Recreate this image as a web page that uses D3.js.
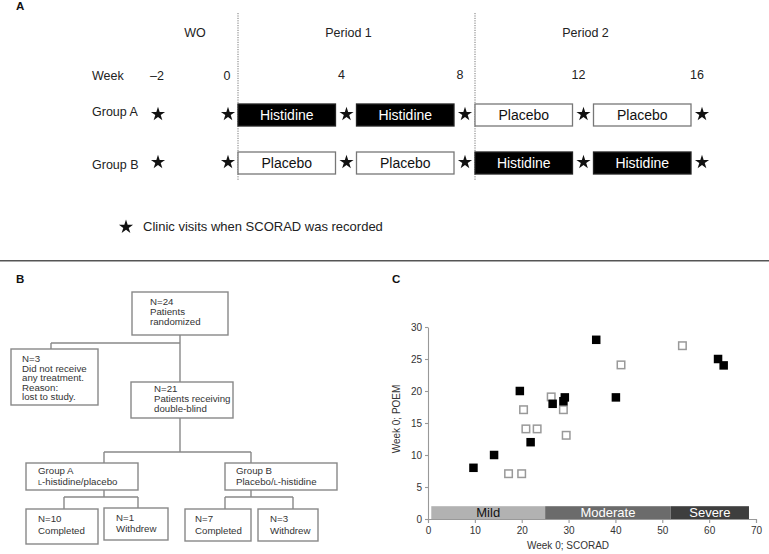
<!DOCTYPE html>
<html><head><meta charset="utf-8">
<script src="https://cdn.jsdelivr.net/npm/d3@7"></script>
<style>body{margin:0;background:#fff}svg{display:block;font-family:"Liberation Sans",Arial,sans-serif}</style>
</head><body>
<svg id="c" width="769" height="554"></svg>
<script>
// ---------- Panel A data ----------
const weeks = [-2, 0, 4, 8, 12, 16];
const weekLabels = ["–2", "0", "4", "8", "12", "16"];
const periodNames = ["WO", "Period 1", "Period 2"];
const periodWeeks = [[-2, 0], [0, 8], [8, 16]];
const groupNames = ["Group A", "Group B"];
const segmentWeeks = [[0, 4], [4, 8], [8, 12], [12, 16]];
const groupATreatment = ["Histidine", "Histidine", "Placebo", "Placebo"];
const groupBTreatment = ["Placebo", "Placebo", "Histidine", "Histidine"];
const legendText = "Clinic visits when SCORAD was recorded";

// ---------- Panel B data ----------
const flowN24 = ["N=24", "Patients", "randomized"];
const flowN3 = ["N=3", "Did not receive", "any treatment.", "Reason:", "lost to study."];
const flowN21 = ["N=21", "Patients receiving", "double-blind"];
const flowGroupA = ["Group A", "L-histidine/placebo"];
const flowGroupB = ["Group B", "Placebo/L-histidine"];
const flowA10 = ["N=10", "Completed"];
const flowA1 = ["N=1", "Withdrew"];
const flowB7 = ["N=7", "Completed"];
const flowB3 = ["N=3", "Withdrew"];

// ---------- Panel C data ----------
const filledScorad = [9.7, 14.1, 19.6, 21.9, 26.6, 28.9, 29.2, 35.9, 40.1, 61.9, 63.1];
const filledPoem   = [8, 10, 20, 12, 18, 18.4, 19, 28, 19, 25, 24];
const openScorad = [17.3, 20.1, 20.5, 21.0, 23.4, 26.4, 29.0, 29.6, 41.3, 54.4];
const openPoem   = [7, 7, 17, 14, 14, 19, 17, 13, 24, 27];
const severityNames = ["Mild", "Moderate", "Severe"];
const severityFrom = [0.7, 25, 51.8];
const severityTo = [25, 51.8, 68.5];
const xTicks = [0, 10, 20, 30, 40, 50, 60, 70];
const yTicks = [0, 5, 10, 15, 20, 25, 30];
const xTitle = "Week 0; SCORAD";
const yTitle = "Week 0; POEM";

const svg = d3.select("#c");

// Panel labels & separator
function panelLabel(t, x, y) {
  svg.append("text").attr("x", x).attr("y", y).text(t)
    .attr("font-weight", "bold").attr("font-size", 11.5).attr("fill", "#111");
}
panelLabel("A", 16, 10);
panelLabel("B", 16, 283);
panelLabel("C", 392, 283);
svg.append("line").attr("x1", 0).attr("x2", 769).attr("y1", 260.7).attr("y2", 260.7)
  .attr("stroke", "#555").attr("stroke-width", 1.4);

// ================= Panel A =================
const xw = d3.scaleLinear().domain([-2, 0, 16]).range([158, 228, 702]);
const rowY = d3.scaleOrdinal().domain(groupNames).range([115, 163]);
const gA = svg.append("g");
const starPath = d3.symbol(d3.symbolStar, 62);

// dotted period dividers
[0, 8].forEach(w => {
  gA.append("line").attr("x1", xw(w) + 10).attr("x2", xw(w) + 10)
    .attr("y1", 13).attr("y2", 180)
    .attr("stroke", "#777").attr("stroke-width", 1).attr("stroke-dasharray", "1.2,1.2");
});

periodNames.forEach((p, i) => {
  const [a, b] = periodWeeks[i];
  gA.append("text").attr("x", (xw(a) + xw(b)) / 2 + 2).attr("y", 37)
    .attr("text-anchor", "middle").attr("font-size", 12.5).attr("fill", "#222").text(p);
});

gA.append("text").attr("x", 92).attr("y", 80).attr("font-size", 12.5).attr("fill", "#222").text("Week");
weeks.forEach((w, i) => {
  gA.append("text").attr("x", xw(w) + (w > 0 ? -5 : -1)).attr("y", w > 0 ? 79 : 80)
    .attr("text-anchor", "middle").attr("font-size", 12.5).attr("fill", "#222").text(weekLabels[i]);
});

const treatments = [groupATreatment, groupBTreatment];
groupNames.forEach((g, gi) => {
  const cy = rowY(g);
  gA.append("text").attr("x", 92).attr("y", cy + 1 + gi * 5).attr("font-size", 12.5)
    .attr("fill", "#222").text(g);
  weeks.forEach(w => {
    gA.append("path").attr("d", starPath).attr("transform", `translate(${xw(w)},${cy - 0.8})`)
      .attr("fill", "#111");
  });
  segmentWeeks.forEach(([s, e], si) => {
    const t = treatments[gi][si];
    const dark = t === "Histidine";
    const x0 = xw(s) + 10, x1 = xw(e) - 11;
    gA.append("rect").attr("x", x0).attr("y", cy - 11).attr("width", x1 - x0).attr("height", 22)
      .attr("fill", dark ? "#000" : "#fff").attr("stroke", dark ? "#222" : "#777")
      .attr("stroke-width", 1.3);
    gA.append("text").attr("x", (x0 + x1) / 2).attr("y", cy + 5)
      .attr("text-anchor", "middle").attr("font-size", 14)
      .attr("fill", dark ? "#fff" : "#111").text(t);
  });
});

gA.append("path").attr("d", starPath).attr("transform", "translate(126,227)").attr("fill", "#111");
gA.append("text").attr("x", 143).attr("y", 230.5).attr("font-size", 13).attr("fill", "#222").text(legendText);

// ================= Panel B =================
const gB = svg.append("g");
const boxStroke = "#888";
function conn(x1, y1, x2, y2) {
  gB.append("line").attr("x1", x1).attr("y1", y1).attr("x2", x2).attr("y2", y2)
    .attr("stroke", boxStroke).attr("stroke-width", 1.4);
}
function box(lines, x, y, w, h, tx, ty, lh) {
  gB.append("rect").attr("x", x).attr("y", y).attr("width", w).attr("height", h)
    .attr("fill", "#fff").attr("stroke", boxStroke).attr("stroke-width", 1.4);
  lines.forEach((l, i) => {
    const t = gB.append("text").attr("x", tx).attr("y", ty + i * lh)
      .attr("font-size", 9.7).attr("fill", "#333");
    const m = l.match(/^(.*?)(L)(-histidine.*)$/);
    if (m) {
      if (m[1]) t.append("tspan").text(m[1]);
      t.append("tspan").attr("font-size", 7.3).text(m[2]);
      t.append("tspan").text(m[3]);
    } else t.text(l);
  });
}
conn(180, 335, 180, 382);
conn(51, 343, 180, 343); conn(51, 343, 51, 349);
conn(180, 418, 180, 452); conn(104, 452, 251, 452);
conn(104, 452, 104, 463); conn(251, 452, 251, 463);
conn(104, 490, 104, 497); conn(64, 497, 138, 497);
conn(64, 497, 64, 509); conn(138, 497, 138, 508);
conn(251, 490, 251, 497); conn(225, 497, 293, 497);
conn(225, 497, 225, 509); conn(293, 497, 293, 509);

box(flowN24, 132, 292, 96, 43, 150, 305, 10);
box(flowN3, 11, 349, 87, 56, 22, 362, 9.6);
box(flowN21, 131, 382, 102, 36, 154, 392, 9.8);
box(flowGroupA, 26, 463, 112, 27, 38, 474, 10.5);
box(flowGroupB, 225, 463, 112, 27, 236, 474, 10.5);
box(flowA10, 26, 509, 72, 35, 38, 522, 12);
box(flowA1, 104, 508, 64, 32, 116, 520.5, 11.5);
box(flowB7, 185, 509, 66, 32, 195, 522, 12);
box(flowB3, 258, 509, 60, 32, 270, 522, 12);

// ================= Panel C =================
const gC = svg.append("g");
const x = d3.scaleLinear().domain([0, 70]).range([428, 756]);
const y = d3.scaleLinear().domain([0, 30]).range([519, 327]);

// severity bar
severityNames.forEach((n, i) => {
  const cols = ["#b2b2b2", "#6b6b6b", "#3e3e3e"];
  gC.append("rect").attr("x", x(severityFrom[i])).attr("y", y(2))
    .attr("width", x(severityTo[i]) - x(severityFrom[i])).attr("height", y(0) - y(2))
    .attr("fill", cols[i]);
  gC.append("text").attr("x", (x(severityFrom[i]) + x(severityTo[i])) / 2).attr("y", 517)
    .attr("text-anchor", "middle").attr("font-size", 13)
    .attr("fill", i === 0 ? "#111" : "#fff").text(n);
});

const xAxis = gC.append("g").attr("transform", `translate(0,${y(0)})`)
  .call(d3.axisBottom(x).tickValues(xTicks).tickSize(4).tickPadding(4));
const yAxis = gC.append("g").attr("transform", `translate(${x(0)},0)`)
  .call(d3.axisLeft(y).tickValues(yTicks).tickSize(3).tickSizeOuter(0).tickPadding(3));
[xAxis, yAxis].forEach(a => {
  a.selectAll("path,line").attr("stroke", "#999").attr("stroke-width", 1.1);
  a.selectAll("text").attr("font-size", 10).attr("fill", "#333")
    .attr("font-family", '"Liberation Sans",Arial,sans-serif');
});

const sq = 8.5;
openScorad.forEach((v, i) => {
  gC.append("rect").attr("x", x(v) - sq / 2).attr("y", y(openPoem[i]) - sq / 2)
    .attr("width", sq - 1).attr("height", sq - 1).attr("fill", "#fff")
    .attr("stroke", "#999").attr("stroke-width", 1.5);
});
filledScorad.forEach((v, i) => {
  gC.append("rect").attr("x", x(v) - sq / 2).attr("y", y(filledPoem[i]) - sq / 2)
    .attr("width", sq).attr("height", sq).attr("fill", "#000");
});

gC.append("text").attr("x", (x(0) + x(70)) / 2 - 24).attr("y", 549)
  .attr("text-anchor", "middle").attr("font-size", 10).attr("fill", "#333").text(xTitle);
gC.append("text").attr("transform", `translate(400,${y(15) - 4}) rotate(-90)`)
  .attr("text-anchor", "middle").attr("font-size", 10).attr("fill", "#333").text(yTitle);
</script>
</body></html>
